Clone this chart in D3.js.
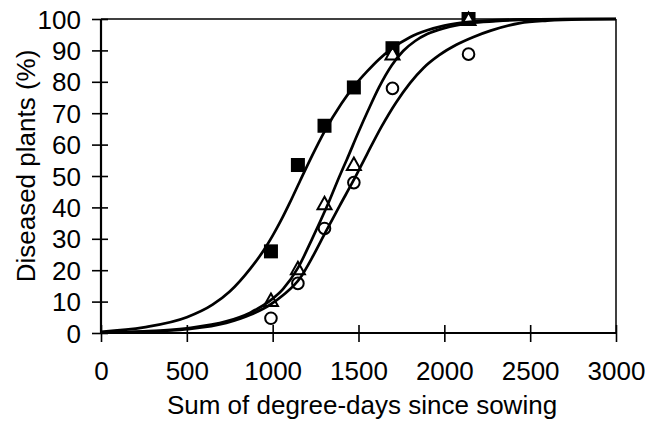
<!DOCTYPE html>
<html>

<head>
    <meta charset="utf-8">
    <title>Diseased plants</title>
    <style>
        body { margin: 0; background: #fff; }
        text { font-family: "Liberation Sans", Arial, sans-serif; fill: #000; }
    </style>
</head>

<body>
    <script src="https://d3js.org/d3.v7.min.js"></script>
    <script>
    // tick labels
    const xTicks = [0, 500, 1000, 1500, 2000, 2500, 3000];
    const yTicks = [0, 10, 20, 30, 40, 50, 60, 70, 80, 90, 100];

    // observed points (degree-days, % diseased)
    const obsX = [990, 1147, 1302, 1473, 1698, 2141];
    const squareY = [26, 53.5, 66, 78.2, 90.7, 100];
    const triangleY = [10.5, 20.6, 41.3, 53.8, 89, 100];
    const circleY = [4.7, 15.8, 33.3, 47.9, 77.9, 88.8];

    // fitted curves
    const curveAX = [0, 250, 500, 650, 750, 870, 950, 1000, 1050, 1100, 1160, 1230, 1300, 1400, 1470, 1550, 1620, 1690, 1800, 1900, 2000, 2150, 2400, 2700, 3000];
    const curveAY = [0.4, 1.8, 5, 9, 13.2, 20.5, 26.5, 31, 36, 41.5, 48.5, 56.5, 64, 73, 78.3, 83.3, 87.2, 90.4, 94.2, 96.4, 97.9, 99.1, 99.8, 100, 100];

    const curveBX = [0, 250, 500, 730, 870, 985, 1060, 1150, 1230, 1324, 1390, 1431, 1500, 1557, 1620, 1693, 1760, 1830, 1900, 2000, 2150, 2300, 2500, 2800, 3000];
    const curveBY = [0.1, 0.5, 1.5, 3.7, 6.5, 10.3, 14, 21, 30, 41.3, 50, 55.1, 64, 71, 78.3, 85.2, 89.8, 93, 95.2, 97.1, 98.7, 99.3, 99.8, 100, 100];

    const curveCX = [0, 250, 500, 730, 870, 985, 1060, 1160, 1230, 1305, 1390, 1470, 1550, 1635, 1720, 1800, 1880, 1970, 2070, 2170, 2270, 2440, 2600, 2800, 3000];
    const curveCY = [0.1, 0.4, 1.2, 3.2, 5.8, 9, 12, 17.5, 24, 31.8, 40.5, 48.5, 57, 65.8, 73.5, 79.6, 84.5, 88.5, 91.8, 94.3, 96.3, 98.7, 99.5, 99.9, 100];

    const width = 645;
    const height = 424;
    const mLeft = 101, mRight = 616, mTop = 19, mBottom = 333;

    const svg = d3.select("body")
        .append("svg")
        .attr("width", width)
        .attr("height", height);

    const x = d3.scaleLinear().domain([0, 3000]).range([mLeft, mRight]);
    const y = d3.scaleLinear().domain([0, 100]).range([mBottom, mTop]);

    // frame: top and right thin
    svg.append("line")
        .attr("x1", mLeft).attr("x2", mRight).attr("y1", mTop).attr("y2", mTop)
        .attr("stroke", "#000").attr("stroke-width", 1.5);
    svg.append("line")
        .attr("x1", mRight).attr("x2", mRight).attr("y1", mTop).attr("y2", mBottom)
        .attr("stroke", "#000").attr("stroke-width", 1.5);

    // y axis
    const yAxis = svg.append("g")
        .attr("transform", `translate(${mLeft},0)`)
        .call(d3.axisLeft(y).tickValues(yTicks).tickFormat(d3.format("d")).tickSize(9).tickPadding(11));
    yAxis.select(".domain").remove();
    yAxis.selectAll(".tick line").attr("x1", 7).attr("stroke-width", 1.6);
    yAxis.selectAll(".tick text")
        .attr("font-size", 26)
        .attr("font-family", "Liberation Sans, Arial, sans-serif")
        .attr("dy", "0.35em");

    // x axis
    const xAxis = svg.append("g")
        .attr("transform", `translate(0,${mBottom})`)
        .call(d3.axisBottom(x).tickValues(xTicks).tickFormat(d3.format("d")).tickSize(9).tickPadding(20));
    xAxis.select(".domain").remove();
    xAxis.selectAll(".tick line").attr("y1", -8).attr("stroke-width", 1.6);
    xAxis.selectAll(".tick text")
        .attr("font-size", 26)
        .attr("font-family", "Liberation Sans, Arial, sans-serif")
        .attr("dy", "0.71em");

    // axis lines
    svg.append("line")
        .attr("x1", mLeft).attr("x2", mLeft).attr("y1", mTop).attr("y2", mBottom)
        .attr("stroke", "#000").attr("stroke-width", 2.2);
    svg.append("line")
        .attr("x1", mLeft).attr("x2", mRight).attr("y1", mBottom).attr("y2", mBottom)
        .attr("stroke", "#000").attr("stroke-width", 2.2);

    // axis titles
    svg.append("text")
        .attr("x", 362)
        .attr("y", 414)
        .attr("text-anchor", "middle")
        .attr("font-size", 26)
        .text("Sum of degree-days since sowing");

    svg.append("text")
        .attr("transform", "translate(35,166) rotate(-90)")
        .attr("text-anchor", "middle")
        .attr("font-size", 26)
        .text("Diseased plants (%)");

    // markers
    const pts = (ys) => obsX.map((d, i) => ({ x: d, y: ys[i] }));

    svg.selectAll("rect.sq")
        .data(pts(squareY))
        .enter()
        .append("rect")
        .attr("x", d => x(d.x) - 7)
        .attr("y", d => y(d.y) - 7)
        .attr("width", 14)
        .attr("height", 14)
        .attr("fill", "#000");

    svg.selectAll("circle.ci")
        .data(pts(circleY))
        .enter()
        .append("circle")
        .attr("cx", d => x(d.x))
        .attr("cy", d => y(d.y))
        .attr("r", 5.8)
        .attr("fill", "#fff")
        .attr("stroke", "#000")
        .attr("stroke-width", 2);

    svg.selectAll("path.tri")
        .data(pts(triangleY))
        .enter()
        .append("path")
        .attr("d", "M0,-6.5L7,6L-7,6Z")
        .attr("transform", d => `translate(${x(d.x)},${y(d.y)})`)
        .attr("fill", "#fff")
        .attr("stroke", "#000")
        .attr("stroke-width", 2);

    // fitted curves
    const line = d3.line()
        .x(d => x(d[0]))
        .y(d => y(d[1]))
        .curve(d3.curveMonotoneX);

    [[curveAX, curveAY], [curveBX, curveBY], [curveCX, curveCY]].forEach(c => {
        svg.append("path")
            .datum(c[0].map((d, i) => [d, c[1][i]]))
            .attr("fill", "none")
            .attr("stroke", "#000")
            .attr("stroke-width", 2.7)
            .attr("d", line);
    });
    </script>
</body>

</html>
